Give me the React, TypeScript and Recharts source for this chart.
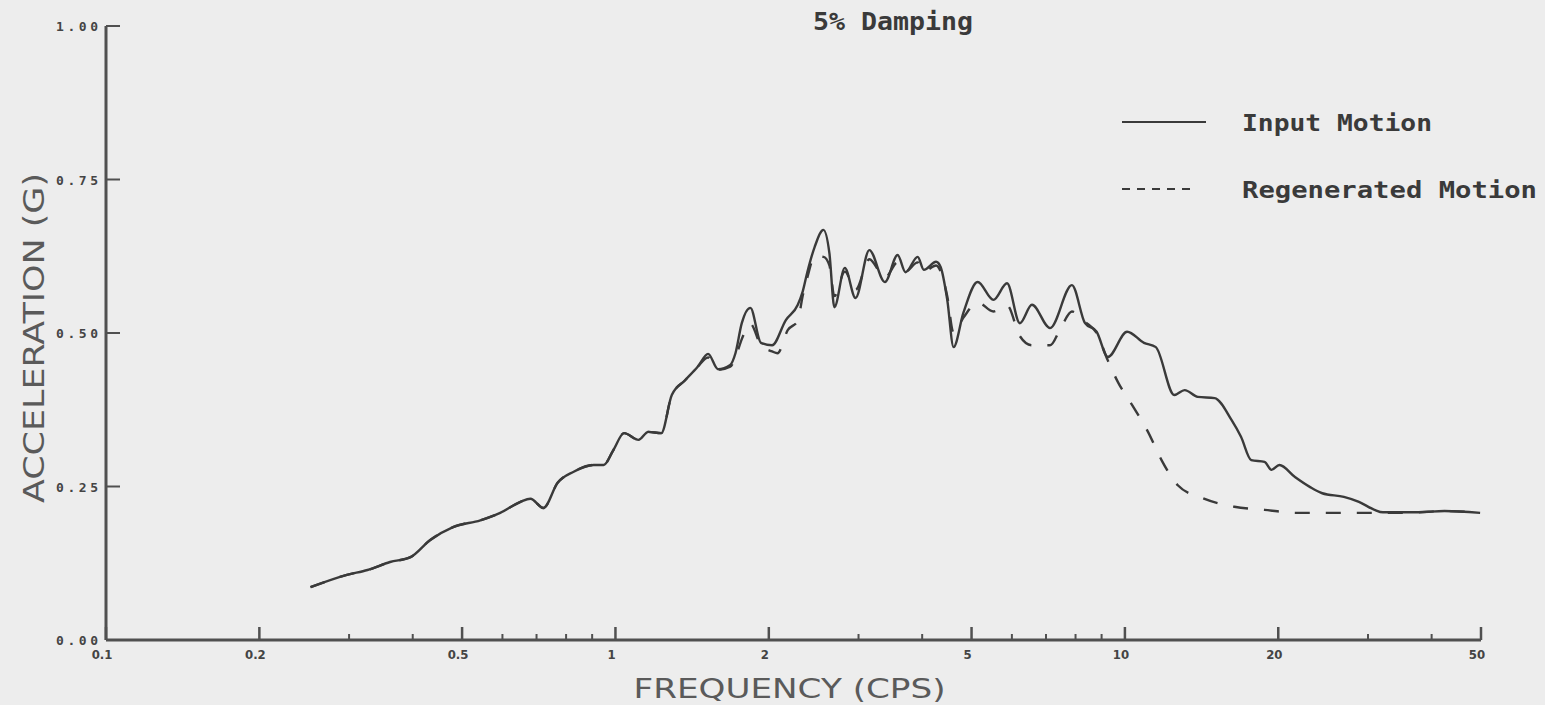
import React from 'react';
import { LineChart, Line, XAxis, YAxis, Legend } from 'recharts';

// ---- data ----
const inputFreq = [
  0.252, 0.297, 0.326, 0.361, 0.396, 0.433, 0.48, 0.543, 0.594, 0.651, 0.681, 0.722, 0.77, 0.828,
  0.906, 0.948, 0.99, 1.04, 1.11, 1.16, 1.23, 1.29, 1.37, 1.45, 1.52, 1.59, 1.68, 1.72, 1.77, 1.84,
  1.93, 2.03, 2.16, 2.28, 2.33, 2.38, 2.46, 2.56, 2.63, 2.69, 2.82, 2.96, 3.15, 3.38, 3.58, 3.71,
  3.92, 4.03, 4.26, 4.35, 4.48, 4.61, 4.82, 5.14, 5.52, 5.87, 6.22, 6.57, 7.13, 7.87, 8.35, 8.8,
  9.26, 10.1, 10.9, 11.5, 12.5, 13.1, 13.9, 15.0, 16.2, 16.9, 17.7, 18.8, 19.4, 20.1, 21.6, 23.1,
  24.4, 26.9, 28.8, 30.9, 32.1, 37.5, 42.4, 49.8,
];
const inputAccel = [
  0.086, 0.106, 0.114, 0.127, 0.135, 0.163, 0.184, 0.195, 0.207, 0.225, 0.23, 0.215, 0.256, 0.274,
  0.285, 0.285, 0.309, 0.337, 0.326, 0.339, 0.337, 0.399, 0.423, 0.445, 0.466, 0.441, 0.448, 0.467, 0.516, 0.541,
  0.484, 0.48, 0.521, 0.546, 0.567, 0.599, 0.64, 0.668, 0.63, 0.542, 0.606, 0.557, 0.635, 0.583, 0.627, 0.599,
  0.624, 0.603, 0.616, 0.607, 0.554, 0.477, 0.533, 0.583, 0.554, 0.581, 0.516, 0.546, 0.508, 0.578, 0.516, 0.502,
  0.461, 0.502, 0.484, 0.477, 0.399, 0.407, 0.396, 0.394, 0.358, 0.331, 0.293, 0.29, 0.277, 0.285, 0.265, 0.249,
  0.239, 0.233, 0.225, 0.212, 0.208, 0.208, 0.21, 0.207,
];
const regenFreq = [
  0.252, 0.297, 0.326, 0.361, 0.396, 0.433, 0.48, 0.543, 0.594, 0.651, 0.681, 0.722, 0.77, 0.828,
  0.906, 0.948, 0.99, 1.04, 1.11, 1.16, 1.23, 1.29, 1.37, 1.45, 1.52, 1.59, 1.68, 1.72, 1.77, 1.84,
  1.93, 2.03, 2.08, 2.18, 2.28, 2.33, 2.38, 2.46, 2.56, 2.63, 2.69, 2.82, 2.96, 3.15, 3.38, 3.58, 3.71,
  3.92, 4.03, 4.26, 4.35, 4.48, 4.61, 4.82, 5.14, 5.52, 5.87, 6.22, 6.57, 7.13, 7.5, 7.87, 8.35, 8.8,
  9.26, 9.69, 10.4, 11.1, 11.8, 12.7, 14.2, 16.4, 18.8, 21.8, 25.1, 28.5, 32.1, 37.5, 42.4, 49.8,
];
const regenAccel = [
  0.086, 0.106, 0.114, 0.127, 0.135, 0.163, 0.184, 0.195, 0.207, 0.225, 0.23, 0.215, 0.256, 0.274,
  0.285, 0.285, 0.309, 0.337, 0.326, 0.339, 0.337, 0.399, 0.423, 0.445, 0.46, 0.44, 0.445, 0.46, 0.49, 0.515,
  0.48, 0.47, 0.467, 0.505, 0.52, 0.56, 0.59, 0.625, 0.624, 0.61, 0.56, 0.6, 0.57, 0.62, 0.59, 0.615, 0.6,
  0.615, 0.6, 0.61, 0.6, 0.56, 0.5, 0.525, 0.55, 0.535, 0.545, 0.495, 0.48, 0.48, 0.51, 0.535, 0.518, 0.5,
  0.455, 0.42, 0.379, 0.339, 0.293, 0.252, 0.231, 0.217, 0.212, 0.207, 0.207, 0.207, 0.207, 0.208, 0.21, 0.207,
];

const seriesNames = ['Input Motion', 'Regenerated Motion'];
const chartTitle = '5% Damping';
const xAxisTitle = 'FREQUENCY (CPS)';
const yAxisTitle = 'ACCELERATION (G)';

const majorTicks = [0.1, 0.2, 0.5, 1, 2, 5, 10, 20, 50];
const majorTickLabels = ['0.1', '0.2', '0.5', '1', '2', '5', '10', '20', '50'];
const minorTicks = [0.3, 0.4, 0.6, 0.7, 0.8, 0.9, 3, 4, 6, 7, 8, 9, 30, 40];
const yTicks = [0, 0.25, 0.5, 0.75, 1];
const yTickLabels = ['0.00', '0.25', '0.50', '0.75', '1.00'];

const inputData = inputFreq.map((f, i) => ({ f, a: inputAccel[i] }));
const regenData = regenFreq.map((f, i) => ({ f, a: regenAccel[i] }));
const allXTicks = [...majorTicks, ...minorTicks].sort((a, b) => a - b);

const INK = '#3a3a3a';
const AXIS = '#505050';
const BG = '#ededed';

const XTick = (props: any) => {
  const { x, y, payload } = props;
  const idx = majorTicks.indexOf(payload.value);
  const major = idx >= 0;
  return (
    <g>
      <line x1={x} x2={x} y1={y} y2={y - (major ? 13 : 6)} stroke={AXIS} strokeWidth={major ? 2.5 : 2} />
      {major && (
        <text
          x={x - 4}
          y={y + 19}
          textAnchor="middle"
          fontFamily="'DejaVu Sans Condensed', 'DejaVu Sans', sans-serif"
          fontWeight="bold"
          fontSize={13}
          fill="#444"
        >
          {majorTickLabels[idx]}
        </text>
      )}
    </g>
  );
};

const YTick = (props: any) => {
  const { x, y, payload } = props;
  const idx = yTicks.indexOf(payload.value);
  return (
    <g>
      <line x1={x} x2={x + 14} y1={y} y2={y} stroke={AXIS} strokeWidth={2} />
      <text
        x={x - 8}
        y={y + 5}
        textAnchor="end"
        fontFamily="'DejaVu Sans Mono', monospace"
        fontWeight="bold"
        fontSize={13}
        textLength={42}
        lengthAdjust="spacing"
        fill="#444"
      >
        {yTickLabels[idx]}
      </text>
    </g>
  );
};

const LegendContent = (props: any) => {
  const payload = props.payload || [];
  return (
    <svg width={445} height={115} style={{ display: 'block' }}>
      {payload.map((entry: any, i: number) => {
        const cy = i === 0 ? 22 : 89;
        const dashed = entry.payload && entry.payload.strokeDasharray;
        return (
          <g key={i}>
            <line
              x1={22}
              x2={dashed ? 97 : 106}
              y1={cy}
              y2={cy}
              stroke={entry.color}
              strokeWidth={2}
              strokeDasharray={dashed ? '8 7' : undefined}
            />
            <text
              x={142}
              y={cy + 9}
              fontFamily="'DejaVu Sans Mono', monospace"
              fontWeight="bold"
              fontSize={23}
              textLength={i === 0 ? 190 : 295}
              lengthAdjust="spacingAndGlyphs"
              fill={INK}
            >
              {entry.value}
            </text>
          </g>
        );
      })}
    </svg>
  );
};

export default function App() {
  return (
    <div style={{ position: 'absolute', left: 0, top: 0, width: 1545, height: 705, background: BG }}>
      <LineChart width={1545} height={705} margin={{ top: 26, right: 64, bottom: 0, left: 0 }}>
        <XAxis
          type="number"
          dataKey="f"
          scale="log"
          domain={[0.1, 50]}
          allowDataOverflow
          ticks={allXTicks}
          interval={0}
          tickLine={false}
          tickSize={0}
          tickMargin={0}
          height={65}
          axisLine={{ stroke: AXIS, strokeWidth: 3 }}
          tick={<XTick />}
          label={{
            content: (p: any) => {
              const vb = p.viewBox || { x: 106, y: 640, width: 1375 };
              return (
                <text
                  x={vb.x + vb.width / 2 - 4}
                  y={vb.y + 58}
                  textAnchor="middle"
                  fontFamily="'DejaVu Sans', sans-serif"
                  fontSize={26}
                  textLength={312}
                  lengthAdjust="spacingAndGlyphs"
                  fill="#5a5a5a"
                >
                  {xAxisTitle}
                </text>
              );
            },
          }}
        />
        <YAxis
          type="number"
          domain={[0, 1]}
          ticks={yTicks}
          interval={0}
          width={106}
          tickLine={false}
          tickSize={0}
          tickMargin={0}
          axisLine={{ stroke: AXIS, strokeWidth: 3 }}
          tick={<YTick />}
          label={{
            content: (p: any) => {
              const vb = p.viewBox || { x: 0, y: 26, width: 106, height: 614 };
              const cx = 44;
              const cy = vb.y + vb.height / 2 + 5;
              return (
                <text
                  x={cx}
                  y={cy}
                  transform={`rotate(-90, ${cx}, ${cy})`}
                  textAnchor="middle"
                  fontFamily="'DejaVu Sans', sans-serif"
                  fontSize={28}
                  textLength={330}
                  lengthAdjust="spacingAndGlyphs"
                  fill="#5a5a5a"
                >
                  {yAxisTitle}
                </text>
              );
            },
          }}
        />
        <Legend
          layout="horizontal"
          verticalAlign="middle"
          align="center"
          content={<LegendContent />}
          wrapperStyle={{ position: 'absolute', left: 1100, top: 100, width: 445, height: 115 }}
        />
        <Line
          data={inputData}
          dataKey="a"
          name={seriesNames[0]}
          type="monotone"
          stroke={INK}
          strokeWidth={2.4}
          dot={false}
          activeDot={false}
          isAnimationActive={false}
        />
        <Line
          data={regenData}
          dataKey="a"
          name={seriesNames[1]}
          type="monotone"
          stroke={INK}
          strokeWidth={2.4}
          strokeDasharray="15 16"
          dot={false}
          activeDot={false}
          isAnimationActive={false}
        />
        <text
          x={893}
          y={30}
          textAnchor="middle"
          fontFamily="'DejaVu Sans Mono', monospace"
          fontWeight="bold"
          fontSize={24}
          textLength={160}
          lengthAdjust="spacingAndGlyphs"
          fill={INK}
        >
          {chartTitle}
        </text>
      </LineChart>
    </div>
  );
}
